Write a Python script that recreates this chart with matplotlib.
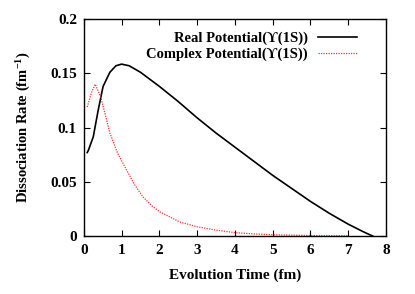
import matplotlib
matplotlib.use('Agg')
import matplotlib.pyplot as plt

# values
real_time = [0.09, 0.12, 0.25, 0.38, 0.51, 0.69, 0.85, 1.0, 1.2, 1.5, 2.0, 2.5, 3.0,
             3.5, 4.0, 4.5, 5.0, 5.5, 6.0, 6.5, 7.0, 7.4, 7.65]
real_rate = [0.077, 0.079, 0.0915, 0.116, 0.138, 0.151, 0.157, 0.1585, 0.157, 0.151,
             0.138, 0.124, 0.109, 0.095, 0.082, 0.069, 0.056, 0.044, 0.032, 0.021,
             0.011, 0.004, 0.0]

complex_time = [0.09, 0.2, 0.3, 0.45, 0.69, 0.9, 1.13, 1.35, 1.57, 1.8, 2.01, 2.54,
                3.0, 3.5, 4.0, 4.5, 5.0, 6.0, 7.0]
complex_rate = [0.119, 0.132, 0.140, 0.128, 0.095, 0.076, 0.061, 0.047, 0.036, 0.028,
                0.0224, 0.013, 0.0086, 0.0055, 0.0032, 0.002, 0.0012, 0.0005, 0.0003]

yticks = [0, 0.05, 0.1, 0.15, 0.2]
yticklabels = ['0', '0.05', '0.1', '0.15', '0.2']
xticks = [0, 1, 2, 3, 4, 5, 6, 7, 8]

plt.rcParams['font.family'] = ['Liberation Serif', 'DejaVu Serif']
plt.rcParams['font.weight'] = 'bold'
plt.rcParams['mathtext.fontset'] = 'custom'
plt.rcParams['mathtext.rm'] = 'Liberation Serif:bold'
plt.rcParams['mathtext.default'] = 'rm'

fig = plt.figure(figsize=(4.15, 2.94), dpi=100)
ax = fig.add_axes([0.202, 0.197, 0.728, 0.738])

ax.plot(real_time, real_rate, color='black', lw=1.2,
        label='Real Potential(\u03d2(1S))')
ax.plot(complex_time, complex_rate, color='#ff3030', lw=0.9, linestyle=(0, (1, 1)),
        label='Complex Potential(\u03d2(1S))')

ax.set_xlim(0, 8)
ax.set_ylim(0, 0.2)
ax.set_xticks(xticks)
ax.set_yticks(yticks)
ax.set_yticklabels(yticklabels)
ax.tick_params(direction='in', top=True, right=True, labelsize=11, length=4, width=0.8)
ax.tick_params(axis='x', pad=6)
ax.tick_params(axis='y', pad=5)
for lab in ax.get_xticklabels() + ax.get_yticklabels():
    lab.set_fontweight('bold')
for s in ax.spines.values():
    s.set_linewidth(1.0)

ax.set_xlabel('Evolution Time (fm)', fontsize=11, fontweight='bold', labelpad=8)
ax.set_ylabel('Dissociation Rate (fm$^{-1}$)', fontsize=10.5, fontweight='bold', labelpad=12)

leg = ax.legend(loc='upper right', frameon=False, markerfirst=False, fontsize=10.5,
                handlelength=2.65, handletextpad=0.7, labelspacing=0.2,
                borderaxespad=0.0, bbox_to_anchor=(0.922, 0.97))
for t in leg.get_texts():
    t.set_ha('right')
    t.set_fontweight('bold')
leg._legend_box.align = 'right'

fig.savefig('out.png', dpi=100)
